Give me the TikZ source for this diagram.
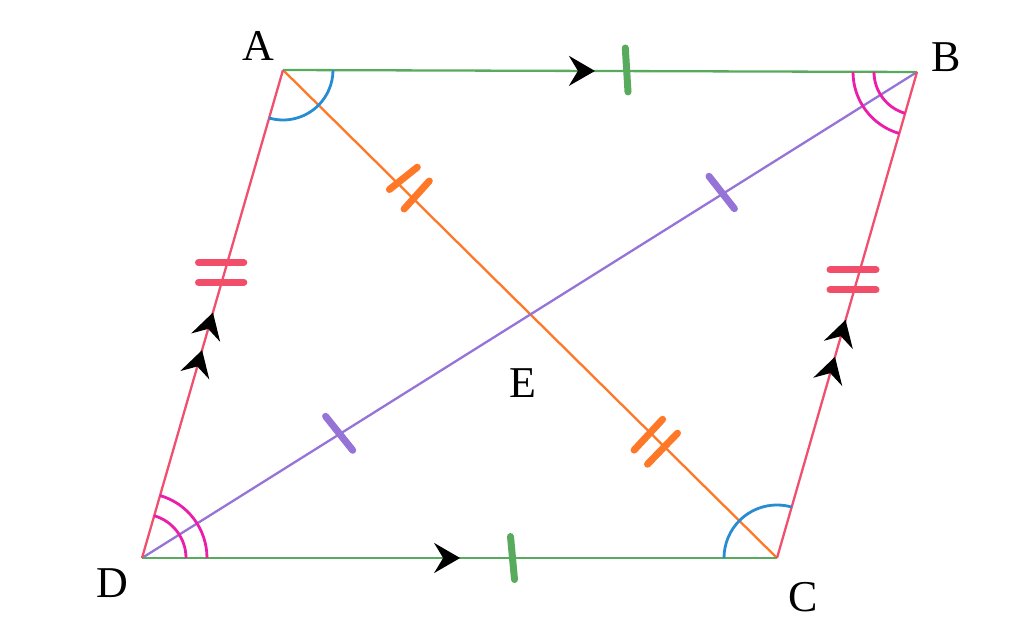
\documentclass[tikz,border=0pt]{standalone}
\usepackage{fontspec}
\setmainfont{Liberation Serif}
\usetikzlibrary{arrows.meta,decorations.markings,angles}
\definecolor{sgreen}{RGB}{88,170,92}
\definecolor{spink}{RGB}{240,80,110}
\definecolor{sred}{RGB}{242,78,105}
\definecolor{sorange}{RGB}{255,120,40}
\definecolor{spurple}{RGB}{150,115,215}
\definecolor{sblue}{RGB}{40,140,210}
\definecolor{smagenta}{RGB}{235,30,170}
\begin{document}
\begin{tikzpicture}[x=1pt,y=1pt,
  thinline/.style={line width=2.3pt},
  tickmark/.style={line width=7pt,line cap=round},
  arcmark/.style={draw,line width=2.8pt,angle radius=#1},
  onearrow/.style={postaction={decorate},decoration={markings,
     mark=at position #1 with {\arrow{Stealth[length=26pt,width=30pt,inset=9pt,black]}}}},
  twoarrows/.style 2 args={postaction={decorate},decoration={markings,
     mark=at position #1 with {\arrow{Stealth[length=26pt,width=30pt,inset=9pt,black]}},
     mark=at position #2 with {\arrow{Stealth[length=26pt,width=30pt,inset=9pt,black]}}}},
  lbl/.style={font=\fontsize{44}{46}\selectfont, inner sep=0pt}]
\useasboundingbox (0,0) rectangle (1030,632);
\coordinate (A) at (283,562);
\coordinate (B) at (917,560);
\coordinate (C) at (777,74);
\coordinate (D) at (142,74);

% diagonals
\draw[thinline,sorange] (A) -- (C);
\draw[thinline,spurple] (B) -- (D);

% sides
\draw[thinline,sgreen,onearrow=0.492] (A) -- (B);
\draw[thinline,sgreen,onearrow=0.501] (D) -- (C);
\draw[thinline,spink,twoarrows={0.426}{0.503}] (D) -- (A);
\draw[thinline,spink,twoarrows={0.414}{0.49}] (C) -- (B);

% angle arcs
\pic[arcmark=50pt,sblue] {angle=D--A--B};
\pic[arcmark=53pt,sblue] {angle=B--C--D};
\pic[arcmark=43pt,smagenta] {angle=A--B--C};
\pic[arcmark=64pt,smagenta] {angle=A--B--C};
\pic[arcmark=44pt,smagenta] {angle=C--D--A};
\pic[arcmark=65pt,smagenta] {angle=C--D--A};

% tick marks
\draw[tickmark,sgreen] (625.3,584) -- (628,540);
\draw[tickmark,sgreen] (510.5,95.5) -- (514.5,52.5);
\draw[tickmark,sred] (198.5,369.3) -- (243.8,369.3);
\draw[tickmark,sred] (198.5,349.7) -- (243.8,349.7);
\draw[tickmark,sred] (830,362) -- (876,362);
\draw[tickmark,sred] (830,342) -- (876,342);
\draw[tickmark,spurple] (709,455.7) -- (734.4,423.3);
\draw[tickmark,spurple] (325.6,215.7) -- (352.7,181.7);
\draw[tickmark,sorange] (417.3,464.8) -- (389.4,442.5);
\draw[tickmark,sorange] (429.3,451) -- (404.1,423);
\draw[tickmark,sorange] (662.6,212.7) -- (634.1,181.9);
\draw[tickmark,sorange] (677.5,198.8) -- (647.5,167.8);

% labels
\node[lbl] (la) at (258,586) {A};
\node[lbl] (lb) at (946,575) {B};
\node[lbl] (lc) at (803,35) {C};
\node[lbl] (ld) at (112.5,49) {D};
\node[lbl] (le) at (523,249) {E};
\end{tikzpicture}
\end{document}
